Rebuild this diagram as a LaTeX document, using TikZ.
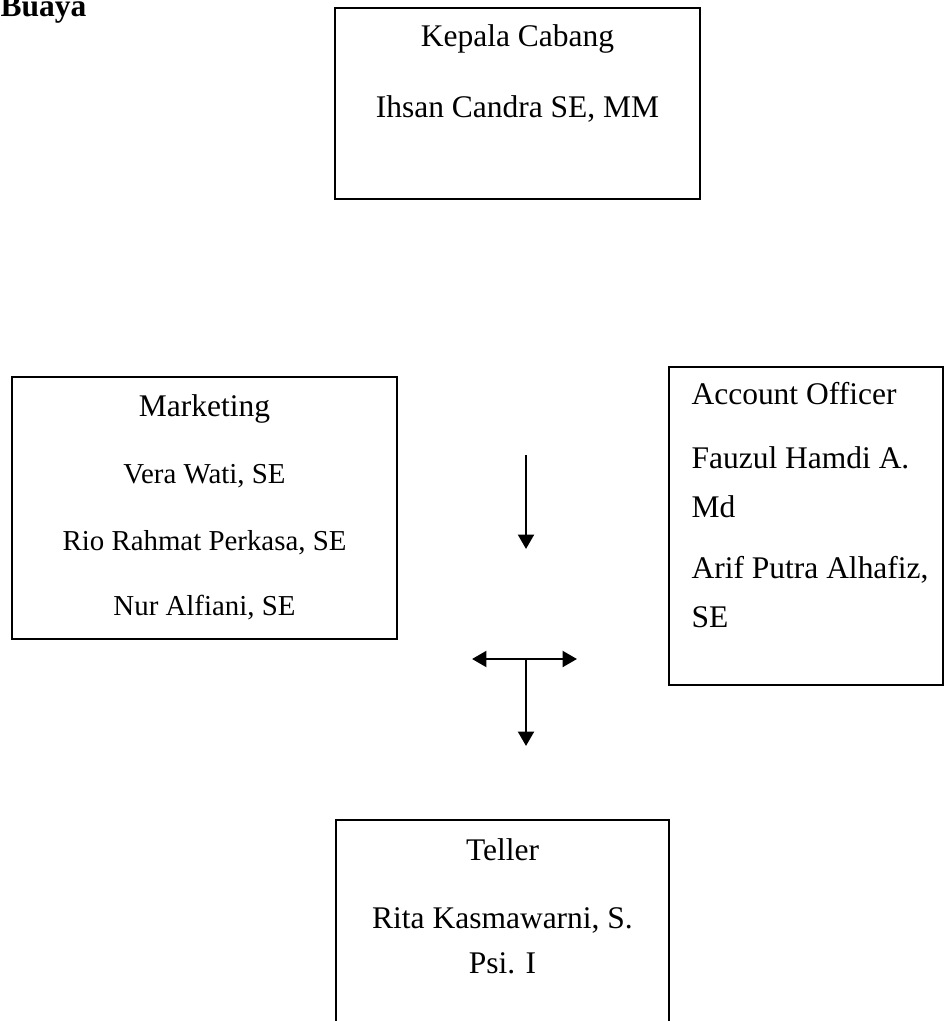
\documentclass[tikz,border=0pt]{standalone}
\usepackage{fontspec}
\setmainfont{Liberation Serif}
\usetikzlibrary{arrows.meta}
\tikzset{
  box/.style={draw, line width=0.8pt, inner sep=0pt},
  txt/.style={anchor=base, inner sep=0pt, font=\fontsize{12}{14}\selectfont},
  smalltxt/.style={anchor=base, inner sep=0pt, font=\fontsize{11}{13}\selectfont},
  link/.style={line width=1.1pt, -{Triangle[width=6pt,length=5.5pt]}},
  twolink/.style={line width=1.1pt, {Triangle[width=6pt,length=5.5pt]}-{Triangle[width=6pt,length=5.5pt]}}
}
\begin{document}
\begin{tikzpicture}[x=0.381pt,y=-0.381pt]
      \useasboundingbox (0,0) rectangle (945,1021);
      % boxes
      \draw
        (517.5,103.5) node[box,minimum width=365*0.381pt,minimum height=191*0.381pt] (kepala){}
        (204.5,508) node[box,minimum width=385*0.381pt,minimum height=262*0.381pt] (marketing){}
        (806,526) node[box,minimum width=274*0.381pt,minimum height=318*0.381pt] (officer){}
        (502.5,940) node[box,minimum width=333*0.381pt,minimum height=240*0.381pt] (teller){};
      % texts
      \draw
        (0,17) node[txt,anchor=base west,font=\fontsize{12}{14}\selectfont\bfseries] (buaya){Buaya}
        (517.5,47) node[txt] (kepalatitle){Kepala Cabang}
        (517.5,118) node[txt] (kepalaname){Ihsan Candra SE, MM}
        (204.5,417) node[txt] (marketingtitle){Marketing}
        (204.5,483) node[smalltxt] (marketing1){Vera Wati, SE}
        (204.5,550) node[smalltxt] (marketing2){Rio Rahmat Perkasa, SE}
        (204.5,615) node[smalltxt] (marketing3){Nur Alfiani, SE}
        (691,405) node[txt,anchor=base west] (officertitle){Account Officer}
        (691,468) node[txt,anchor=base west] (officer1a){Fauzul Hamdi A.}
        (691,517) node[txt,anchor=base west] (officer1b){Md}
        (691,578) node[txt,anchor=base west] (officer2a){Arif Putra Alhafiz,}
        (691,627) node[txt,anchor=base west] (officer2b){SE}
        (502.5,860) node[txt] (tellertitle){Teller}
        (502.5,928) node[txt] (teller1a){Rita Kasmawarni, S.}
        (502.5,973) node[txt] (teller1b){Psi. I};
      % arrows
      \coordinate (down1) at (526,455);
      \coordinate (down1end) at (526,549);
      \coordinate (left) at (472,659);
      \coordinate (right) at (577,659);
      \coordinate (mid) at (526,659);
      \coordinate (down2end) at (526,746);
      \begin{scope}[link]
        \draw (down1) to (down1end);
        \draw (mid) to (down2end);
      \end{scope}
      \draw[twolink] (left) to (right);
    \end{tikzpicture}
\end{document}
